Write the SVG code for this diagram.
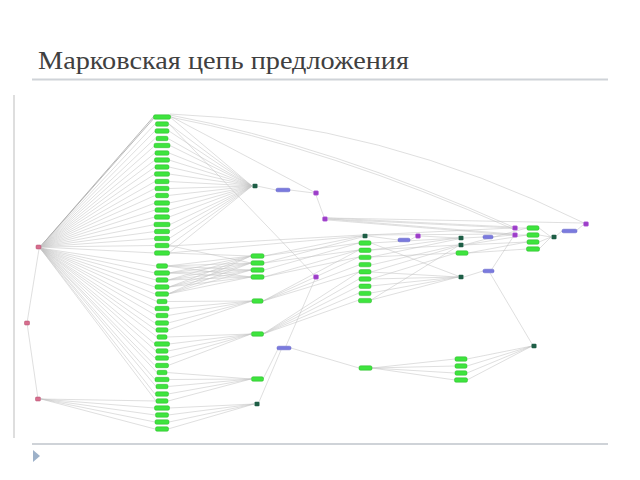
<svg xmlns="http://www.w3.org/2000/svg" width="640" height="480" viewBox="0 0 640 480">
<style>
.t{font-family:"Liberation Serif","Times New Roman",serif;font-size:25px;fill:#404040}
.e{fill:none;stroke:#c4c4c4;stroke-width:.55}
.ed{fill:none;stroke:#a8a8a8;stroke-width:.8}
.g{fill:#3ee43e;stroke:#28b828;stroke-width:.5}
.d{fill:#1e5e46}
.p{fill:#9c3ec8;stroke:#c07ae0;stroke-width:.5}
.b{fill:#7a7ade;stroke:#5c5cc4;stroke-width:.5}
.k{fill:#d86e8e;stroke:#b04c6c;stroke-width:.5}
.f{stroke:#cfd3d8;stroke-width:2}
</style>
<rect width="640" height="480" fill="#fff"/>
<g id="slide">
<text class="t" x="38" y="69" textLength="371" lengthAdjust="spacingAndGlyphs">Марковская цепь предложения</text>
<line class="f" x1="32" y1="79.5" x2="608" y2="79.5"/>
<line class="f" x1="32" y1="444" x2="608" y2="444"/>
<line x1="14" y1="95" x2="14" y2="438" stroke="#bdbdbd" stroke-width="1"/>
<polygon points="33,450 40,456 33,462" fill="#9db1c9"/>
</g>
<g id="connectors">
<path class="ed" d="M40 247L155 115M40 247L155 117"/>
<path class="e" d="M40 247L155 124M40 247L155 131M40 247L155 138.5M40 247L155 145.5M40 247L155 153M40 247L155 160M40 247L155 167M40 247L155 174M40 247L155 181.5M40 247L155 188.5M40 247L155 195.5M40 247L155 203M40 247L155 210M40 247L155 217M40 247L155 224.5M40 247L155 231.5M40 247L155 238.5M40 247L155 245.5M40 247L155 253"/>
<path class="e" d="M40 248L156 266M40 248L155 273M40 248L156 280M40 248L155 287M40 248L155 294M40 248L157 301.5M40 248L155 308.5M40 248L156 315.5M40 248L155 323M40 248L156 330M40 248L157 337M40 248L155 344M40 248L156 351M40 248L155 358M40 248L155 365.5M40 248L157 372.5M40 248L155 379.5M40 248L156 386.5M40 248L155 394M40 248L156 401"/>
<path class="e" d="M39 249L27 323L38 399"/>
<path class="e" d="M41 399L156 401M41 399L155 408M41 399L155 415M41 399L155 422M41 399L155 429"/>
<path class="e" d="M170 117L252 186M169 124L252 186M169 131L252 186M168 138.5L252 186M170 145.5L252 186M169 153L252 186M169 160L252 186M169 167L252 186M169 174L252 186M169 181.5L252 186M169 188.5L252 186M168 195.5L252 186M169 203L252 186M169 210L252 186M169 217L252 186M170 224.5L252 186M169 231.5L252 186M169 238.5L252 186M169 245.5L252 186M169 253L252 186"/>
<path class="e" d="M257 186L276 190M290 190L314 193M316 195L324 217"/>
<path class="e" d="M170 116L314 192M169 124L315 276M170 114Q380 122 584 223M170 115Q330 145 513 227M170 117Q330 148 513 229"/>
<path class="e" d="M167 266L251 256M167 266L251 263M167 266L251 270M167 266L251 277M169 273L251 256M169 273L251 263M169 273L251 270M169 273L251 277M168 280L251 256M168 280L251 263M168 280L251 270M168 280L251 277M169 287L251 256M169 287L251 263M169 287L251 270M169 287L251 277M168 294L251 256M168 294L251 263M168 294L251 270M168 294L251 277M169 253L251 256M169 245.5L251 263"/>
<path class="e" d="M167 301.5L252 301M169 308.5L252 301M168 315.5L252 301M168 323L252 301M168 330L252 301"/>
<path class="e" d="M167 337L251 334M169 344L251 334M168 351L251 334M168 358L251 334M168 365.5L251 334"/>
<path class="e" d="M167 372.5L251 379M169 379.5L251 379M168 386.5L251 379M168 394L251 379M168 401L251 379"/>
<path class="e" d="M169 408L254 404M168 415L254 404M169 422L254 404M168 429L254 404"/>
<path class="e" d="M264 256L362 236M264 256L359 243M264 263L359 250M264 270L359 243M264 277L359 257M264 263L362 237M169 253L362 236M169 246L362 235M264 277L359 250"/>
<path class="e" d="M263 301L359 250M263 301L359 257M263 301L359 265M263 301L359 272"/>
<path class="e" d="M263 334L359 272M263 334L359 279M263 334L359 286M263 334L359 293M263 334L359 300"/>
<path class="e" d="M263 379L278 349M259 402L281 350M286 346L315 279M291 348L359 368"/>
<path class="e" d="M368 236L398 240M410 240L415 237M421 236L458 238"/>
<path class="e" d="M371 243L458 238M371 250L458 238M371 257L458 239M371 250L458 245M371 265L458 245M371 272L458 246M371 257L456 253M371 279L456 253M371 272L458 277M371 279L458 277M371 286L458 277M371 293L458 277M371 300L458 277M371 243L458 276M371 300L458 246"/>
<path class="e" d="M464 238L483 237M493 237L512 235M464 245L527 235M464 245L527 242M464 245L527 228M468 253L527 242M468 253L527 249M464 277L483 271M492 269L513 237M490 273L532 344"/>
<path class="e" d="M518 228L527 228M518 235L527 235M539 228L551 237M539 235L551 237M539 242L551 237M539 249L551 237M556 236L562 231M577 230L583 225"/>
<path class="e" d="M328 218L512 227M328 219L512 228M328 219L512 234M328 220L512 235M328 218L583 223M367 235L512 228M367 235L512 234"/>
<path class="e" d="M372 368L455 359M372 368L455 366M372 368L455 373M372 368L455 380M467 359L532 346M467 366L532 346M467 373L532 346M467 380L532 346"/>
</g>
<g id="a0"><rect class="g" x="153.5" y="114.8" width="17" height="4.4" rx="1.5"/></g>
<g id="a1"><rect class="g" x="155.5" y="121.8" width="13" height="4.4" rx="1.5"/></g>
<g id="a2"><rect class="g" x="155" y="128.8" width="14" height="4.4" rx="1.5"/></g>
<g id="a3"><rect class="g" x="156" y="136.3" width="12" height="4.4" rx="1.5"/></g>
<g id="a4"><rect class="g" x="154" y="143.3" width="16" height="4.4" rx="1.5"/></g>
<g id="a5"><rect class="g" x="155" y="150.8" width="14" height="4.4" rx="1.5"/></g>
<g id="a6"><rect class="g" x="154.5" y="157.8" width="15" height="4.4" rx="1.5"/></g>
<g id="a7"><rect class="g" x="155" y="164.8" width="14" height="4.4" rx="1.5"/></g>
<g id="a8"><rect class="g" x="154.5" y="171.8" width="15" height="4.4" rx="1.5"/></g>
<g id="a9"><rect class="g" x="155" y="179.3" width="14" height="4.4" rx="1.5"/></g>
<g id="a10"><rect class="g" x="155" y="186.3" width="14" height="4.4" rx="1.5"/></g>
<g id="a11"><rect class="g" x="155.5" y="193.3" width="13" height="4.4" rx="1.5"/></g>
<g id="a12"><rect class="g" x="154.5" y="200.8" width="15" height="4.4" rx="1.5"/></g>
<g id="a13"><rect class="g" x="155" y="207.8" width="14" height="4.4" rx="1.5"/></g>
<g id="a14"><rect class="g" x="154.5" y="214.8" width="15" height="4.4" rx="1.5"/></g>
<g id="a15"><rect class="g" x="154" y="222.3" width="16" height="4.4" rx="1.5"/></g>
<g id="a16"><rect class="g" x="154.5" y="229.3" width="15" height="4.4" rx="1.5"/></g>
<g id="a17"><rect class="g" x="154.5" y="236.3" width="15" height="4.4" rx="1.5"/></g>
<g id="a18"><rect class="g" x="155" y="243.3" width="14" height="4.4" rx="1.5"/></g>
<g id="a19"><rect class="g" x="154.5" y="250.8" width="15" height="4.4" rx="1.5"/></g>
<g id="b0"><rect class="g" x="156.5" y="263.8" width="11" height="4.4" rx="1.5"/></g>
<g id="b1"><rect class="g" x="154.5" y="270.8" width="15" height="4.4" rx="1.5"/></g>
<g id="b2"><rect class="g" x="156" y="277.8" width="12" height="4.4" rx="1.5"/></g>
<g id="b3"><rect class="g" x="155" y="284.8" width="14" height="4.4" rx="1.5"/></g>
<g id="b4"><rect class="g" x="155.5" y="291.8" width="13" height="4.4" rx="1.5"/></g>
<g id="b5"><rect class="g" x="157" y="299.3" width="10" height="4.4" rx="1.5"/></g>
<g id="b6"><rect class="g" x="155" y="306.3" width="14" height="4.4" rx="1.5"/></g>
<g id="b7"><rect class="g" x="156" y="313.3" width="12" height="4.4" rx="1.5"/></g>
<g id="b8"><rect class="g" x="155.5" y="320.8" width="13" height="4.4" rx="1.5"/></g>
<g id="b9"><rect class="g" x="156" y="327.8" width="12" height="4.4" rx="1.5"/></g>
<g id="b10"><rect class="g" x="157" y="334.8" width="10" height="4.4" rx="1.5"/></g>
<g id="b11"><rect class="g" x="154.5" y="341.8" width="15" height="4.4" rx="1.5"/></g>
<g id="b12"><rect class="g" x="156" y="348.8" width="12" height="4.4" rx="1.5"/></g>
<g id="b13"><rect class="g" x="155.5" y="355.8" width="13" height="4.4" rx="1.5"/></g>
<g id="b14"><rect class="g" x="155.5" y="363.3" width="13" height="4.4" rx="1.5"/></g>
<g id="b15"><rect class="g" x="157" y="370.3" width="10" height="4.4" rx="1.5"/></g>
<g id="b16"><rect class="g" x="155" y="377.3" width="14" height="4.4" rx="1.5"/></g>
<g id="b17"><rect class="g" x="156" y="384.3" width="12" height="4.4" rx="1.5"/></g>
<g id="b18"><rect class="g" x="155.5" y="391.8" width="13" height="4.4" rx="1.5"/></g>
<g id="b19"><rect class="g" x="156" y="398.8" width="12" height="4.4" rx="1.5"/></g>
<g id="b20"><rect class="g" x="154.5" y="405.8" width="15" height="4.4" rx="1.5"/></g>
<g id="b21"><rect class="g" x="155.5" y="412.8" width="13" height="4.4" rx="1.5"/></g>
<g id="b22"><rect class="g" x="155" y="419.8" width="14" height="4.4" rx="1.5"/></g>
<g id="b23"><rect class="g" x="155.5" y="426.8" width="13" height="4.4" rx="1.5"/></g>
<g id="g2a"><rect class="g" x="251" y="253.8" width="13" height="4.4" rx="1.5"/></g>
<g id="g2b"><rect class="g" x="251" y="260.8" width="13" height="4.4" rx="1.5"/></g>
<g id="g2c"><rect class="g" x="251" y="267.8" width="13" height="4.4" rx="1.5"/></g>
<g id="g2d"><rect class="g" x="251" y="274.8" width="13" height="4.4" rx="1.5"/></g>
<g id="g3"><rect class="g" x="252" y="298.8" width="11" height="4.4" rx="1.5"/></g>
<g id="g4"><rect class="g" x="251.5" y="331.8" width="12" height="4.4" rx="1.5"/></g>
<g id="g5"><rect class="g" x="251.5" y="376.8" width="12" height="4.4" rx="1.5"/></g>
<g id="c0"><rect class="g" x="359" y="240.8" width="12" height="4.4" rx="1.5"/></g>
<g id="c1"><rect class="g" x="359" y="248" width="12" height="4.4" rx="1.5"/></g>
<g id="c2"><rect class="g" x="359" y="255.2" width="12" height="4.4" rx="1.5"/></g>
<g id="c3"><rect class="g" x="359" y="262.4" width="12" height="4.4" rx="1.5"/></g>
<g id="c4"><rect class="g" x="359" y="269.6" width="12" height="4.4" rx="1.5"/></g>
<g id="c5"><rect class="g" x="359" y="276.8" width="12" height="4.4" rx="1.5"/></g>
<g id="c6"><rect class="g" x="359" y="284" width="12" height="4.4" rx="1.5"/></g>
<g id="c7"><rect class="g" x="359" y="291.2" width="12" height="4.4" rx="1.5"/></g>
<g id="c8"><rect class="g" x="358.5" y="298.4" width="13" height="4.4" rx="1.5"/></g>
<g id="g7"><rect class="g" x="456" y="250.8" width="12" height="4.4" rx="1.5"/></g>
<g id="e0"><rect class="g" x="527" y="225.8" width="12" height="4.4" rx="1.5"/></g>
<g id="e1"><rect class="g" x="527" y="232.8" width="12" height="4.4" rx="1.5"/></g>
<g id="e2"><rect class="g" x="527" y="239.8" width="12" height="4.4" rx="1.5"/></g>
<g id="e3"><rect class="g" x="526.5" y="246.8" width="13" height="4.4" rx="1.5"/></g>
<g id="g8"><rect class="g" x="359" y="365.8" width="13" height="4.4" rx="1.5"/></g>
<g id="f0"><rect class="g" x="455" y="356.8" width="12" height="4.4" rx="1.5"/></g>
<g id="f1"><rect class="g" x="455" y="363.8" width="12" height="4.4" rx="1.5"/></g>
<g id="f2"><rect class="g" x="455" y="370.8" width="12" height="4.4" rx="1.5"/></g>
<g id="f3"><rect class="g" x="454.5" y="377.8" width="13" height="4.4" rx="1.5"/></g>
<g id="t1"><rect class="d" x="252.5" y="183.8" width="5" height="4.4" rx="1"/></g>
<g id="d5"><rect class="d" x="254.5" y="401.8" width="5" height="4.4" rx="1"/></g>
<g id="d6"><rect class="d" x="362.5" y="233.8" width="5" height="4.4" rx="1"/></g>
<g id="d7"><rect class="d" x="458.5" y="235.8" width="5" height="4.4" rx="1"/></g>
<g id="d8"><rect class="d" x="458.5" y="242.8" width="5" height="4.4" rx="1"/></g>
<g id="d9"><rect class="d" x="458.5" y="274.8" width="5" height="4.4" rx="1"/></g>
<g id="d10"><rect class="d" x="551.5" y="234.8" width="5" height="4.4" rx="1"/></g>
<g id="d11"><rect class="d" x="531.5" y="343.8" width="5" height="4.4" rx="1"/></g>
<g id="p1"><rect class="b" x="276" y="188.2" width="14" height="3.6" rx="1.5"/></g>
<g id="p2"><rect class="b" x="277" y="346.2" width="14" height="3.6" rx="1.5"/></g>
<g id="p3"><rect class="b" x="398" y="238.2" width="12" height="3.6" rx="1.5"/></g>
<g id="p4"><rect class="b" x="483" y="235.2" width="10" height="3.6" rx="1.5"/></g>
<g id="p5"><rect class="b" x="483" y="269.2" width="11" height="3.6" rx="1.5"/></g>
<g id="p6"><rect class="b" x="562" y="229.2" width="15" height="3.6" rx="1.5"/></g>
<g id="m1"><rect class="p" x="313.5" y="190.7" width="5" height="4.6" rx="1.2"/></g>
<g id="m2"><rect class="p" x="322.5" y="216.7" width="5" height="4.6" rx="1.2"/></g>
<g id="m5"><rect class="p" x="313.5" y="274.7" width="5" height="4.6" rx="1.2"/></g>
<g id="m6"><rect class="p" x="415.5" y="233.7" width="5" height="4.6" rx="1.2"/></g>
<g id="m3"><rect class="p" x="512.5" y="225.7" width="5" height="4.6" rx="1.2"/></g>
<g id="m4"><rect class="p" x="512.5" y="232.7" width="5" height="4.6" rx="1.2"/></g>
<g id="m7"><rect class="p" x="583.5" y="221.7" width="5" height="4.6" rx="1.2"/></g>
<g id="l0"><rect class="k" x="36" y="245" width="5" height="4" rx="1"/></g>
<g id="l1"><rect class="k" x="24.5" y="321" width="5" height="4" rx="1"/></g>
<g id="l2"><rect class="k" x="35.5" y="397" width="5" height="4" rx="1"/></g>
</svg>
